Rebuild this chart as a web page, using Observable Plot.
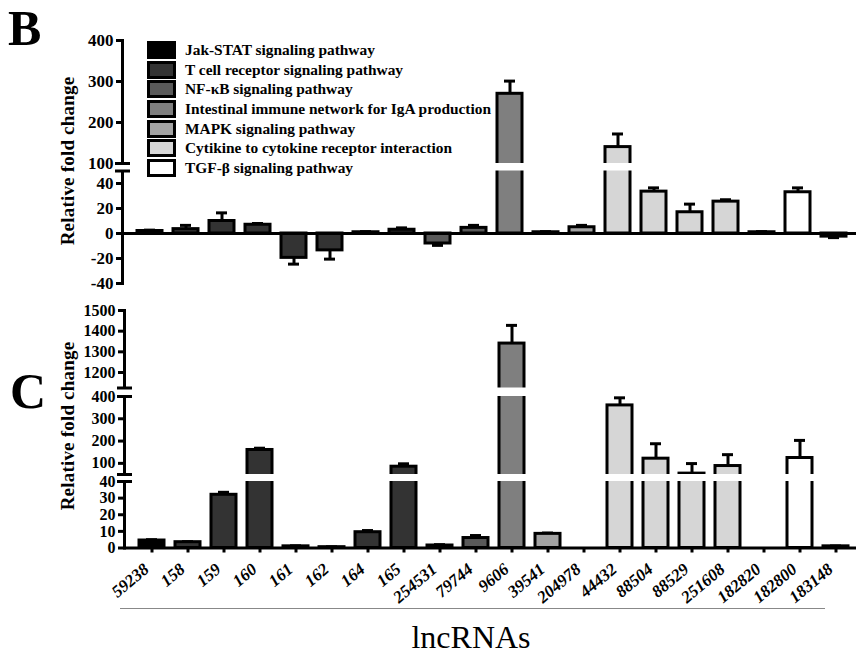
<!DOCTYPE html>
<html><head><meta charset="utf-8">
<script src="https://cdn.jsdelivr.net/npm/d3@7"></script>
<script src="https://cdn.jsdelivr.net/npm/@observablehq/plot@0.6"></script>
<style>
body{margin:0;background:#fff;}
#fig{position:relative;width:856px;height:654px;overflow:hidden;background:#fff;font-family:"Liberation Serif","Times New Roman",serif;color:#000;}
.panel{position:absolute;left:0;}
.letter{position:absolute;font-weight:bold;font-size:50px;line-height:1;}
#legend{position:absolute;left:147px;top:40px;font-weight:bold;font-size:15.4px;}
.row{display:flex;align-items:center;height:19.7px;white-space:nowrap;}
.sw{width:29px;height:18px;border:3px solid #000;box-sizing:border-box;margin-right:9px;flex:none;}
#xline{position:absolute;left:120px;top:608px;width:705px;height:0;border-top:1px solid #888;}
#xtitle{position:absolute;left:271px;width:400px;top:621px;text-align:center;font-size:32px;line-height:1;}
.ytitle{position:absolute;width:240px;left:-52px;text-align:center;font-weight:bold;font-size:19px;line-height:24px;height:24px;transform:rotate(-90deg);white-space:nowrap;letter-spacing:0.2px;}
</style></head><body>
<div id="fig">
  <div class="panel" id="pB" style="top:0"></div>
  <div class="panel" id="pC" style="top:290px"></div>
  <div class="letter" style="left:8px;top:3px">B</div>
  <div class="letter" style="left:10px;top:366px">C</div>
  <div class="ytitle" style="top:149px">Relative fold change</div>
  <div class="ytitle" style="top:414px">Relative fold change</div>
  <div id="legend"></div>
  <div id="xline"></div>
  <div id="xtitle">lncRNAs</div>
</div>
<script>
const categories = ["59238","158","159","160","161","162","164","165","254531","79744","9606","39541","204978","44432","88504","88529","251608","182820","182800","183148"];
const pathways = ["Jak-STAT signaling pathway","T cell receptor signaling pathway","NF-\u03BAB signaling pathway","Intestinal immune network for IgA production","MAPK signaling pathway","Cytikine to cytokine receptor interaction","TGF-\u03B2 signaling pathway"];
const pathwayColors = ["#000000","#333333","#595959","#7f7f7f","#a3a3a3","#d6d6d6","#ffffff"];
const categoryPathway = [0,1,1,1,1,1,1,1,2,2,3,4,4,5,5,5,5,5,6,6];

const valuesB = [2, 3.5, 10, 7, -19.5, -13.5, 1, 3, -8, 4.5, 270, 1, 5, 140, 33.5, 17, 25.5, 1, 33, -2.5];
const errorsB = [0.7, 3, 6.5, 1, 5, 7, 0.5, 1.5, 1.5, 2, 31, 0.5, 1.5, 32, 3, 6.5, 1.5, 0.5, 3.5, 0.8];
const valuesC = [4.5, 3.5, 32, 160, 1, 0.5, 9.5, 85, 1.5, 6, 1340, 8.5, 0, 360, 121, 54, 88, 0, 124, 1];
const errorsC = [0.5, 0.3, 1.5, 8, 0.3, 0.2, 1, 13, 0.5, 1.5, 88, 0.5, 0, 34, 67, 45, 51, 0, 79, 0.2];

const ticksB = [400, 300, 200, 100, 40, 20, 0, -20, -40];
const ticksC = [1500, 1400, 1300, 1200, 400, 300, 200, 100, 40, 30, 20, 10, 0];
const segmentsB = [[-40, 50], [100, 400]];
const segmentsC = [[0, 40], [50, 400], [1125, 1500]];

function panel({values, errors, ticks, segments, yRange, xRange, marginLeft, height, showX, tickFont}) {
  const data = categories.map((c, i) => ({
    c, v: values[i], e: errors[i], p: pathways[categoryPathway[i]],
    tip: values[i] + (values[i] < 0 ? -errors[i] : errors[i])
  }));
  const yDomain = segments.flat();
  const gaps = segments.slice(1).map((s, i) => ({lo: segments[i][1], hi: s[0]}));
  const breaks = gaps.flatMap(g => [g.lo, g.hi]);
  const withErr = data.filter(d => d.v !== 0 && d.e > 0);
  const marks = [
    Plot.ruleX(withErr, {x: "c", y1: "v", y2: "tip", strokeWidth: 3}),
    Plot.tickY(withErr, {x: "c", y: "tip", strokeWidth: 3, insetLeft: 7, insetRight: 7}),
    Plot.barY(data.filter(d => d.v !== 0), {x: "c", y1: 0, y2: "v", fill: "p", stroke: "black", strokeWidth: 3}),
    Plot.frame({anchor: "left", strokeWidth: 3}),
    Plot.rect(gaps, {y1: "lo", y2: "hi", fill: "white", insetLeft: -6}),
    Plot.ruleY([0], {strokeWidth: 3}),
    Plot.axisY({ticks, tickSize: 6, tickPadding: 3, strokeWidth: 3, fontSize: tickFont, fontWeight: "bold", label: null, tickFormat: d => String(d)}),
    Plot.axisY({ticks: breaks, tickSize: 15, dx: 8, strokeWidth: 3, tickFormat: () => "", label: null})
  ];
  if (showX) {
    marks.push(Plot.axisX({tickSize: 5, strokeWidth: 3, tickFormat: () => "", label: null}));
    marks.push(Plot.text(categories, {x: d => d, text: d => d, frameAnchor: "bottom", rotate: -40, textAnchor: "end", dy: 23, dx: -2, fontSize: 17, fontWeight: "bold", fontStyle: "italic"}));
  }
  return Plot.plot({
    width: 856, height,
    marginLeft, marginRight: 0,
    marginTop: yRange[yRange.length - 1], marginBottom: height - yRange[0],
    style: {fontFamily: "Liberation Serif", background: "transparent", overflow: "visible", color: "black"},
    x: {type: "band", domain: categories, range: xRange, paddingInner: 0.3, paddingOuter: 0, axis: null},
    y: {type: "linear", domain: yDomain, range: yRange},
    color: {type: "ordinal", domain: pathways, range: pathwayColors},
    marks
  });
}

document.getElementById("pB").appendChild(panel({
  values: valuesB, errors: errorsB, ticks: ticksB, segments: segmentsB,
  yRange: [283, 170.5, 163, 40], xRange: [129, 854], marginLeft: 122, height: 290, showX: false, tickFont: 17
}));
document.getElementById("pC").appendChild(panel({
  values: valuesC, errors: errorsC, ticks: ticksC, segments: segmentsC,
  yRange: [257.5, 191, 184, 106, 97.5, 20], xRange: [131, 856], marginLeft: 124, height: 364, showX: true, tickFont: 16
}));

const legend = document.getElementById("legend");
pathways.forEach((p, i) => {
  const row = document.createElement("div");
  row.className = "row";
  const sw = document.createElement("div");
  sw.className = "sw";
  sw.style.background = pathwayColors[i];
  const t = document.createElement("span");
  t.textContent = p;
  row.appendChild(sw); row.appendChild(t);
  legend.appendChild(row);
});
</script>
</body></html>
